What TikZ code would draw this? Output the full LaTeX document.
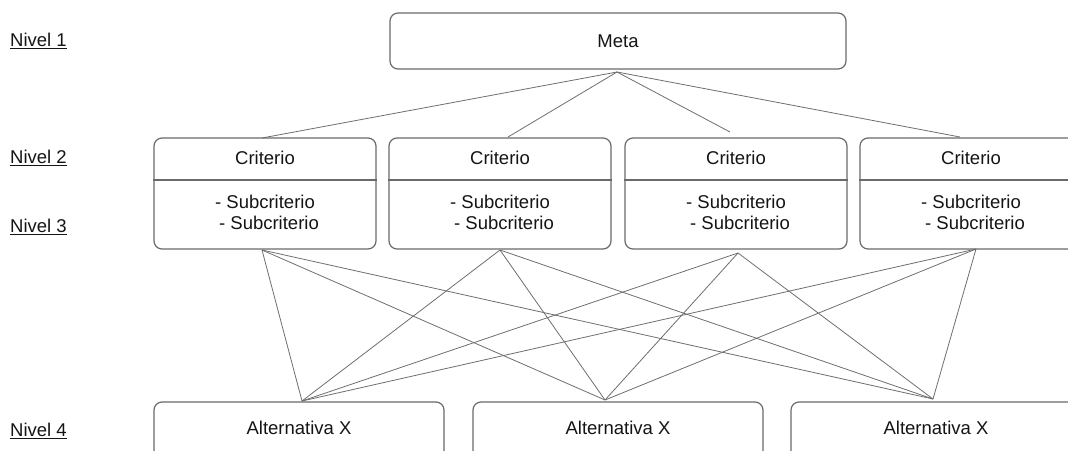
\documentclass[tikz,border=0pt]{standalone}
\usepackage{fontspec}
\setmainfont{Liberation Sans}
\definecolor{boxgray}{HTML}{6A6A6A}
\definecolor{linegray}{HTML}{6E6E6E}
\definecolor{textblack}{HTML}{141414}
\newcommand{\boxfnt}{\fontsize{18.5}{21.5}\selectfont}
\begin{document}
\begin{tikzpicture}[x=1pt,y=-1pt,
  box/.style={draw=boxgray, line width=1.2pt, rounded corners=8pt, inner sep=0pt},
  divline/.style={draw=boxgray, line width=1.2pt},
  conn/.style={draw=linegray, line width=0.8pt},
  lbl/.style={anchor=base west, inner sep=0pt, font=\boxfnt, text=textblack},
  txt/.style={inner sep=0pt, font=\boxfnt, text=textblack, align=center}]
\useasboundingbox (0,0) rectangle (1068,450);
\clip (0,0) rectangle (1068,450);
% level labels
\node[lbl] (n1) at (10,46.5) {\underline{Nivel 1}};
\node[lbl] (n2) at (10,163.5) {\underline{Nivel 2}};
\node[lbl] (n3) at (10,232.5) {\underline{Nivel 3}};
\node[lbl] (n4) at (10,436.5) {\underline{Nivel 4}};
% meta
\node[box, minimum width=456pt, minimum height=56pt] (meta) at (618,41) {};
\node[txt] (metat) at (618,41) {Meta};
% criteria
\foreach \i/\x in {1/265,2/500,3/736,4/971}{
  \node[box, minimum width=222pt, minimum height=111pt] (c\i) at (\x,193.5) {};
  \draw[divline] ([yshift=13.5pt]c\i.west) -- ([yshift=13.5pt]c\i.east);
  \node[txt] (ct\i) at (\x,158) {Criterio};
  \node[txt] (cs\i) at (\x,212.5) {- Subcriterio\\\hspace*{8pt}- Subcriterio};
}
% alternatives
\foreach \i/\x in {1/299,2/618,3/936}{
  \node[box, minimum width=290pt, minimum height=98pt] (a\i) at (\x,451) {};
  \node[txt] (at\i) at (\x,428) {Alternativa X};
}
% connection points
\coordinate (mt) at (617,72);
\coordinate (m1) at (262,138);
\coordinate (m2) at (508,137);
\coordinate (m3) at (730,132);
\coordinate (m4) at (960,137);
\coordinate (b1) at (262,250);
\coordinate (b2) at (500,250);
\coordinate (b3) at (738,253);
\coordinate (b4) at (976,249);
\coordinate (t1) at (302,401);
\coordinate (t2) at (605,400);
\coordinate (t3) at (933,399);
\foreach \j in {1,2,3,4}{
  \draw[conn] (mt) -- (m\j);
  \foreach \k in {1,2,3}{
    \draw[conn] (b\j) -- (t\k);
  }
}
\end{tikzpicture}
\end{document}
